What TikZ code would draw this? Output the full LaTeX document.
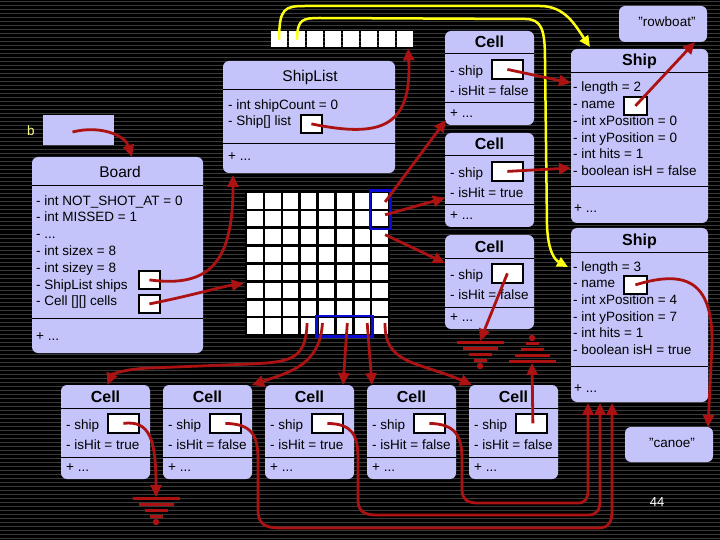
\documentclass[tikz,border=0pt]{standalone}
\usepackage{fontspec}
\setmainfont{Liberation Sans}
\usetikzlibrary{arrows.meta,calc}
\definecolor{boxfill}{RGB}{196,196,250}
\definecolor{arrred}{RGB}{172,18,18}
\definecolor{stripecol}{RGB}{58,58,58}
\definecolor{ptrblue}{RGB}{10,10,210}
\definecolor{ylw}{RGB}{255,255,20}
\definecolor{blbl}{RGB}{255,255,140}
\tikzset{
 umlbox/.style={fill=boxfill, rounded corners=6pt, inner sep=0pt, outer sep=0pt, anchor=north west},
 plainbox/.style={fill=boxfill, inner sep=0pt, outer sep=0pt, anchor=north west},
 sepline/.style={black, line width=1pt},
 ptrbox/.style={fill=white, draw=black, line width=1.8pt, inner sep=0pt, anchor=north west},
 txt/.style={font=\fontsize{13.5}{16}\selectfont, inner sep=0pt, anchor=base west},
 ttl/.style={font=\fontsize{15.5}{18}\selectfont, inner sep=0pt, anchor=base},
 bttl/.style={font=\bfseries\fontsize{16}{19}\selectfont, inner sep=0pt, anchor=base},
 redarrow/.style={arrred, line width=2.8pt, -{Triangle[length=12pt,width=11pt]}},
 ylwarrow/.style={ylw, line width=2.5pt, line cap=round, -{Triangle[length=11pt,width=10pt]}},
 gcell/.style={fill=white, draw=black, line width=2.5pt, minimum size=17.875pt, inner sep=0pt},
 acell/.style={fill=white, minimum size=16pt, inner sep=0pt, anchor=north west},
 blueframe/.style={ptrblue, line width=2.5pt},
 gndpic/.pic={
   \fill[arrred] (-23.5,0) rectangle (23.5,3.2);
   \fill[arrred] (-17.5,6) rectangle (17.5,9.2);
   \fill[arrred] (-11.5,12) rectangle (11.5,15.2);
   \fill[arrred] (-6.5,18) rectangle (6.5,21.2);
   \fill[arrred] (0,25) circle (3.2);
 }
}
\newcommand{\mkcell}[4]{%
 \node[umlbox, minimum width=89pt, minimum height=94pt] (#1) at (#2,#3) {};
 \node[bttl] (#1-t) at ({#2+44.5},{#3+17}) {Cell};
 \draw[sepline] ({#2},{#3+23}) -- ({#2+89},{#3+23});
 \node[txt] (#1-a) at ({#2+5},{#3+44.5}) {- ship};
 \node[ptrbox, minimum width=31pt, minimum height=19pt] (#1-p) at ({#2+46},{#3+28}) {};
 \node[txt] (#1-b) at ({#2+5},{#3+64.5}) {- isHit = #4};
 \draw[sepline] ({#2},{#3+72}) -- ({#2+89},{#3+72});
 \node[txt] (#1-c) at ({#2+5},{#3+86.5}) {+ ...};
}
\newcommand{\mkship}[7]{%
 \node[umlbox, minimum width=137pt, minimum height=174pt] (#1) at (#2,#3) {};
 \node[bttl] (#1-t) at ({#2+68.5},{#3+17}) {Ship};
 \draw[sepline] ({#2},{#3+24}) -- ({#2+137},{#3+24});
 \node[txt] (#1-l1) at ({#2+2},{#3+43}) {- length = #4};
 \node[txt] (#1-l2) at ({#2+2},{#3+59.7}) {- name};
 \node[ptrbox, minimum width=23pt, minimum height=18pt] (#1-p) at ({#2+52},{#3+47}) {};
 \node[txt] (#1-l3) at ({#2+2},{#3+76.4}) {- int xPosition = #5};
 \node[txt] (#1-l4) at ({#2+2},{#3+93.1}) {- int yPosition = #6};
 \node[txt] (#1-l5) at ({#2+2},{#3+109.8}) {- int hits = 1};
 \node[txt] (#1-l6) at ({#2+2},{#3+126.5}) {- boolean isH = #7};
 \draw[sepline] ({#2},{#3+138}) -- ({#2+137},{#3+138});
 \node[txt] (#1-l7) at ({#2+3},{#3+164}) {+ ...};
}
\begin{document}
\begin{tikzpicture}[x=1pt,y=-1pt]
\useasboundingbox (0,0) rectangle (720,540);
\fill[black] (0,0) rectangle (720,540);
\foreach \yy in {2,6,...,538} \draw[stripecol, line width=1pt] (0,\yy) -- (720,\yy);

% array of ships
\foreach \i in {1,...,8} \node[acell] (a\i) at ({271+18*(\i-1)},31) {};

% ShipList
\node[umlbox, minimum width=172pt, minimum height=112pt] (sl) at (223,61) {};
\node[ttl] (sl-t) at (310,81.5) {ShipList};
\draw[sepline] (223,90) -- (395,90);
\node[txt] (sl-a) at (228,109.5) {- int shipCount = 0};
\node[txt] (sl-b) at (228,125.5) {- Ship[] list};
\node[ptrbox, minimum width=21pt, minimum height=18pt] (slp) at (300,114) {};
\draw[sepline] (223,144) -- (395,144);
\node[txt] (sl-c) at (228,160.5) {+ ...};

% b
\node[plainbox, minimum width=71pt, minimum height=30pt] (bb) at (43,115) {};
\node[font=\fontsize{13.5}{16}\selectfont, text=blbl, inner sep=0pt] (blab) at (31,131) {b};

% Board
\node[umlbox, minimum width=171pt, minimum height=196pt] (bd) at (32,157) {};
\node[ttl] (bd-t) at (120,177.5) {Board};
\draw[sepline] (32,186) -- (203,186);
\node[txt] (bd-1) at (36,205.5) {- int NOT\_SHOT\_AT = 0};
\node[txt] (bd-2) at (36,222) {- int MISSED = 1};
\node[txt] (bd-3) at (36,239) {- ...};
\node[txt] (bd-4) at (36,255.5) {- int sizex = 8};
\node[txt] (bd-5) at (36,272.5) {- int sizey = 8};
\node[txt] (bd-6) at (36,289) {- ShipList ships};
\node[txt] (bd-7) at (36,305.5) {- Cell [][] cells};
\node[ptrbox, minimum width=21pt, minimum height=18pt] (bsp) at (138,270) {};
\node[ptrbox, minimum width=21pt, minimum height=18pt] (bcp) at (138,294) {};
\draw[sepline] (32,318) -- (203,318);
\node[txt] (bd-8) at (36,340.5) {+ ...};

% grid
\foreach \c in {1,...,8} \foreach \r in {1,...,8}
  \node[gcell] (g\c-\r) at ({246+17.875*(\c-0.5)},{192+17.875*(\r-0.5)}) {};
\draw[blueframe] (g8-1.north west) rectangle (g8-2.south east);
\draw[blueframe] (g5-8.north west) rectangle (g7-8.south east);

% cells (right column)
\mkcell{cA}{445}{31}{false}
\mkcell{cB}{445}{133}{true}
\mkcell{cC}{445}{235}{false}
% cells (bottom row)
\mkcell{bc1}{61}{385}{true}
\mkcell{bc2}{163}{385}{false}
\mkcell{bc3}{265}{385}{true}
\mkcell{bc4}{367}{385}{false}
\mkcell{bc5}{469}{385}{false}

% ships
\mkship{sA}{571}{49}{2}{0}{0}{false}
\mkship{sB}{571}{228}{3}{4}{7}{true}

% strings
\node[umlbox, minimum width=88pt, minimum height=36pt] (rb) at (619,6) {};
\node[font=\fontsize{13.5}{16}\selectfont, inner sep=0pt] (rb-t) at (667,22) {"rowboat"};
\node[umlbox, minimum width=88pt, minimum height=35pt] (cn) at (625,427) {};
\node[font=\fontsize{13.5}{16}\selectfont, inner sep=0pt] (cn-t) at (672,443) {"canoe"};

% grounds
\coordinate (gnd1) at (156,497);
\coordinate (gnd2) at (480,341);
\coordinate (gnd3) at (532,363);
\pic at (gnd1) {gndpic};
\pic at (gnd2) {gndpic};
\pic[rotate=180] at (gnd3) {gndpic};

% page number
\node[text=white, font=\fontsize{13}{15}\selectfont, inner sep=0pt] (pg) at (657,502) {44};

% yellow references
\draw[ylwarrow] (a1.center) .. controls (279,8) and (285,6) .. (305,6) -- (540,6) .. controls (565,6) and (575,25) .. ($(sA.north west)+(19,-2)$);
\draw[ylwarrow] (a2.center) .. controls (297,19) and (303,18) .. (320,18) -- (525,19) .. controls (542,19) and (545,30) .. (545,60) -- (547,225) .. controls (548,252) and (555,260) .. ($(sB.north west)+(-3,39)$);

% red references
\draw[redarrow] ($(bb.center)+(-6,2)$) .. controls (100,125) and (125,135) .. ($(bd.north west)+(100,0)$);
\draw[redarrow] (slp.center) .. controls (380,138) and (412,128) .. ($(a8.south)+(3,1)$);
\draw[redarrow] (bsp.center) .. controls (210,288) and (233,262) .. ($(sl.south west)+(10,2)$);
\draw[redarrow] (bcp.center) .. controls (190,296) and (220,287) .. ($(g1-6.west)+(-1,-7)$);
\draw[redarrow] ($(g8-1.center)+(5,1)$) -- ($(cA.south west)+(1,-5)$);
\draw[redarrow] ($(g8-2.center)+(5,-4)$) -- ($(cB.south west)+(0,-29)$);
\draw[redarrow] ($(g8-3.center)+(5,-2)$) -- ($(cC.north west)+(0,28)$);
\draw[redarrow] (cA-p.center) -- ($(sA.north west)+(0,34)$);
\draw[redarrow] (cB-p.center) -- ($(sA.north west)+(0,119)$);
\draw[redarrow] (sA-p.center) -- ($(rb.south east)+(-12,0)$);
\draw[redarrow] (cC-p.center) -- (gnd2);
\draw[redarrow] (sB-p.center) .. controls (690,268) and (713,285) .. (712,345) -- ($(cn.north east)+(-5,0)$);
% grid bottom row to bottom cells
\draw[redarrow] ($(g4-8.center)+(-1.5,-3)$) .. controls (306,360) and (290,362) .. (250,364) -- (150,368) .. controls (125,369) and (112,374) .. ($(bc1.north)+(2,0)$);
\draw[redarrow] ($(g5-8.center)+(-4,-3)$) .. controls (320,365) and (290,372) .. (bc2.north east);
\draw[redarrow] ($(g6-8.center)+(3,-3)$) -- ($(bc3.north east)+(-11,0)$);
\draw[redarrow] ($(g7-8.center)+(5,-3)$) -- ($(bc4.north west)+(5,0)$);
\draw[redarrow] ($(g8-8.center)+(5,-3)$) .. controls (384,365) and (420,362) .. ($(bc5.north west)+(3,0)$);
% bottom cell pointers
\draw[redarrow] (bc1-p.center) .. controls (150,420) and (156,440) .. (gnd1);
\draw[redarrow] (bc2-p.center) .. controls (252,424) and (258,435) .. (258,460) -- (258,510) .. controls (258,524) and (265,528) .. (280,528) -- (598,528) .. controls (609,528) and (612,522) .. (612,510) -- ($(sB.south west)+(41,1)$);
\draw[redarrow] (bc3-p.center) .. controls (353,424) and (358,435) .. (358,460) -- (358,500) .. controls (358,511) and (364,515) .. (376,515) -- (588,515) .. controls (597,515) and (600,510) .. (600,500) -- ($(sB.south west)+(29,1)$);
\draw[redarrow] (bc4-p.center) .. controls (455,424) and (462,435) .. (462,460) -- (462,490) .. controls (462,499) and (467,503) .. (478,503) -- (578,503) .. controls (585,503) and (588,499) .. (588,490) -- ($(sB.south west)+(17,1)$);
\draw[redarrow] ($(bc5-p.center)+(1.5,0)$) -- (gnd3);
\end{tikzpicture}
\end{document}
